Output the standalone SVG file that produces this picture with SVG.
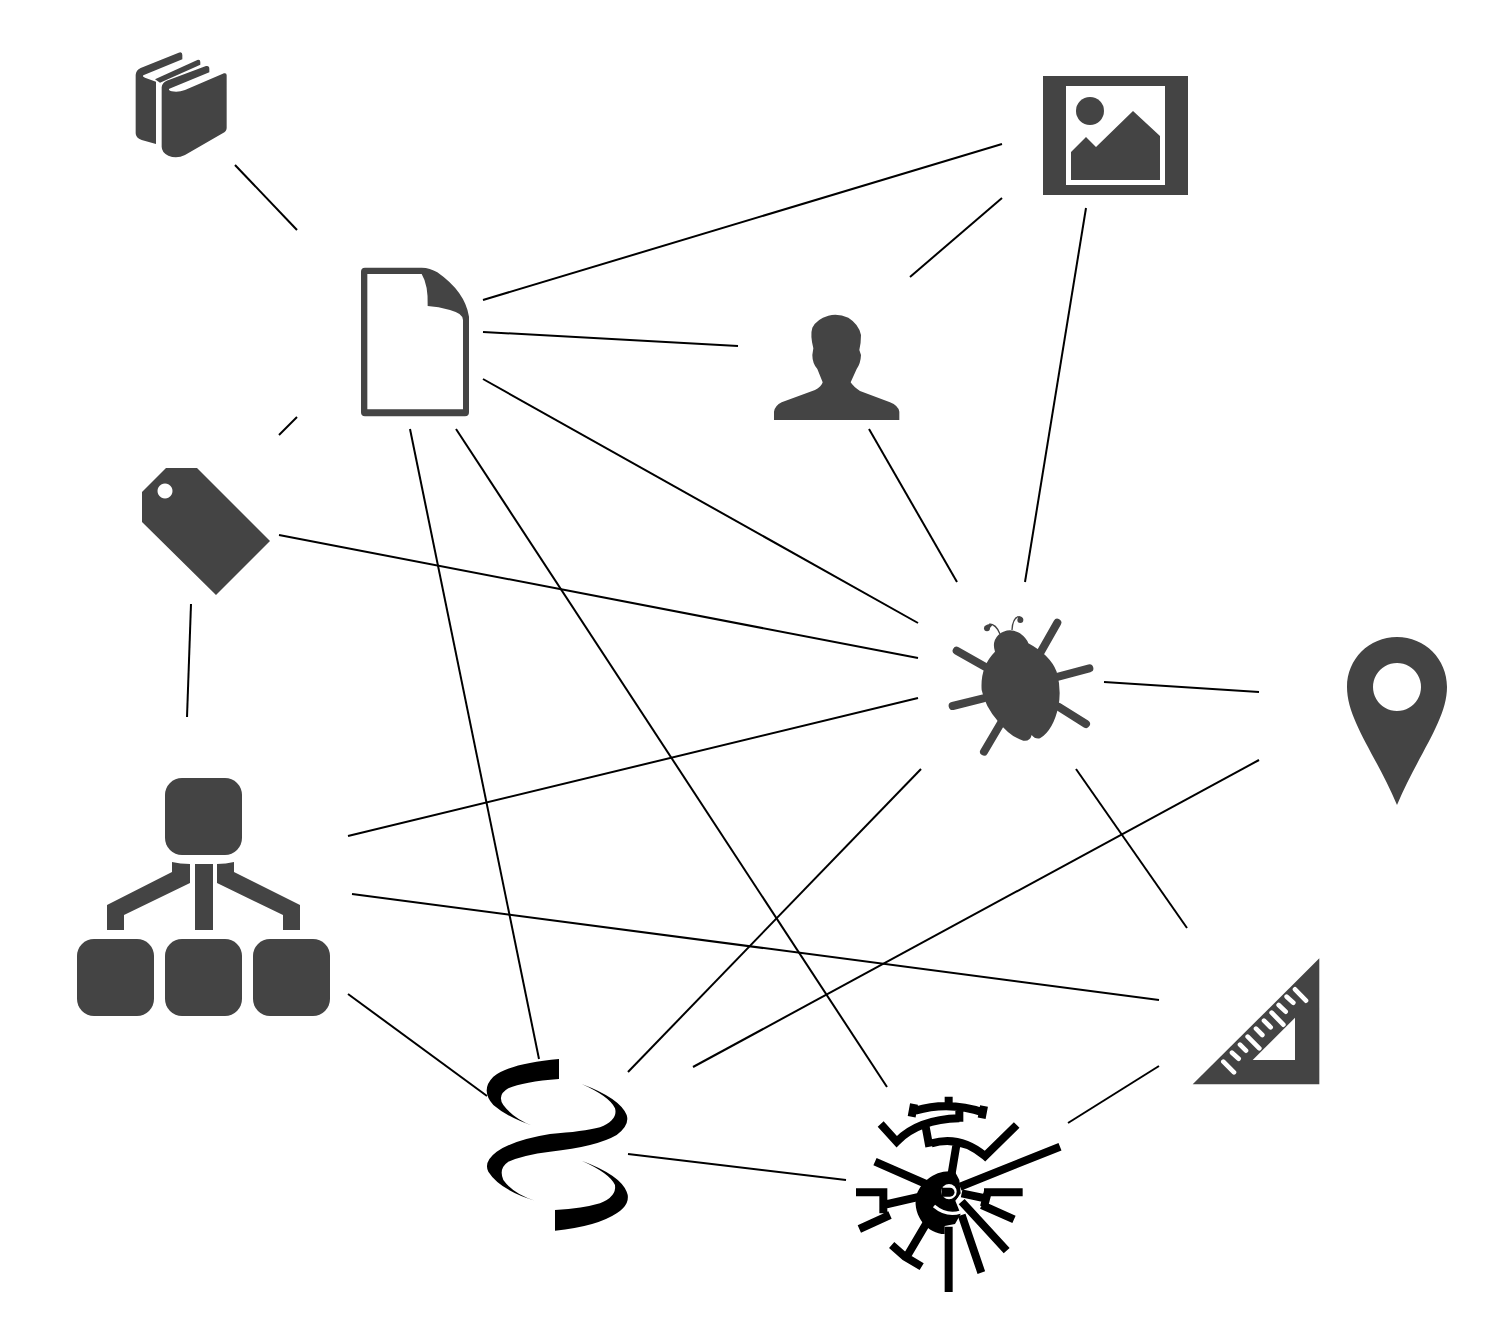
<svg xmlns="http://www.w3.org/2000/svg" width="1502" height="1320" viewBox="0 0 1502 1320">
<style>
.i{fill:#444}
.w{fill:#fff}
#connectors line{stroke:#000;stroke-width:2;fill:none}
.ws{stroke:#fff;stroke-linecap:round;fill:none}
.leg{stroke:#444;stroke-width:24;stroke-linecap:round;fill:none}
.k{stroke:#000;stroke-width:24;fill:none}
</style>
<rect width="1502" height="1320" fill="#fff"/>
<g id="connectors">
<line x1="235" y1="165" x2="297" y2="230"/>
<line x1="483" y1="300" x2="1002" y2="144"/>
<line x1="910" y1="277" x2="1002" y2="198"/>
<line x1="483" y1="332" x2="738" y2="346"/>
<line x1="483" y1="379" x2="918" y2="623"/>
<line x1="297" y1="417" x2="279" y2="435"/>
<line x1="410" y1="429" x2="539" y2="1059"/>
<line x1="456" y1="429" x2="887" y2="1087"/>
<line x1="1086" y1="208" x2="1025" y2="582"/>
<line x1="869" y1="429" x2="957" y2="582"/>
<line x1="279" y1="535" x2="918" y2="658"/>
<line x1="191" y1="604" x2="187" y2="717"/>
<line x1="348" y1="836" x2="918" y2="698"/>
<line x1="352" y1="894" x2="1159" y2="1000"/>
<line x1="348" y1="994" x2="487" y2="1096"/>
<line x1="1104" y1="682" x2="1259" y2="692"/>
<line x1="921" y1="769" x2="628" y2="1072"/>
<line x1="1259" y1="760" x2="693" y2="1067"/>
<line x1="1076" y1="769" x2="1187" y2="928"/>
<line x1="628" y1="1154" x2="846" y2="1180"/>
<line x1="1159" y1="1066" x2="1068" y2="1123"/>
</g>
<g id="books" transform="translate(120,40) scale(.33333)">
<path class="i" d="M47,105Q48,90 62,84L176,38Q187,34 187,45V58L70,106Q66,110 75,113L108,125V312L65,300Q47,294 47,280Z"/>
<path class="i" d="M105,118L232,60Q241,58 241,66V74L120,128Z"/>
<path class="w" d="M108,125Q119,127 125,136L117,140V320L108,318Z"/>
<path class="i" d="M125,142Q126,128 140,122L258,78Q268,76 268,86V97L148,146Q143,150 155,154Q175,158 195,150L312,100Q320,98 320,106V264Q320,274 308,280L195,345Q170,357 145,347Q125,337 125,320Z"/>
</g>
<g id="document" transform="translate(350,255) scale(.33333)">
<path class="i" fill-rule="evenodd" d="M45,38H215Q240,38 262,52Q345,110 357,185V472Q357,484 345,484H45Q33,484 33,472V50Q33,38 45,38ZM52,57V463H339V195Q339,175 300,165Q265,155 233,153Q235,90 215,57Z"/>
</g>
<g id="image">
<rect class="i" x="1043" y="76" width="145" height="119"/>
<rect class="w" x="1066" y="86" width="99" height="99"/>
<circle class="i" cx="1090" cy="111" r="14"/>
<path class="i" d="M1071,152L1086,137L1096,147L1133,111L1160,136V180H1071Z"/>
</g>
<g id="person" transform="translate(760,305) scale(.33333)">
<path class="i" d="M42,345V320Q45,302 65,292L165,255Q185,245 188,232L172,192Q157,175 157,150L160,130Q150,90 157,68Q170,42 205,32Q235,25 265,38Q297,58 303,90Q303,115 298,135L303,150Q302,175 290,192L272,232Q280,245 300,258L390,292Q415,302 418,320V345Z"/>
</g>
<g id="tag">
<path class="i" fill-rule="evenodd" d="M166,468H197L270,541L216,595L142,522V492ZM165,483.500a7.500,7.500 0 1 0 .01,0Z"/>
</g>
<g id="hierarchy">
<rect class="i" x="165" y="778" width="77" height="77" rx="17"/>
<rect class="i" x="77" y="939" width="77" height="77" rx="17"/>
<rect class="i" x="165" y="939" width="77" height="77" rx="17"/>
<rect class="i" x="253" y="939" width="77" height="77" rx="17"/>
<rect class="i" x="195" y="864" width="18" height="66"/>
<path class="i" d="M172,862Q180,864 190,864V883L124,915V930H107V905L172,872Z"/>
<path class="i" d="M234,862Q226,864 217,864V883L283,915V930H300V905L234,872Z"/>
</g>
<g id="bug" transform="translate(930,600) scale(.33333)">
<path class="leg" d="M80,152L165,200M68,318L160,295M162,455L215,365M382,68L330,160M478,205L385,230M468,372L385,320"/>
<path class="i" d="M195,155Q185,125 205,105Q235,80 270,100Q290,115 295,130Q360,165 380,215Q395,270 385,320Q370,390 330,415Q315,418 305,405Q300,425 280,422Q240,410 205,365Q165,320 155,270Q150,200 195,155Z"/>
<path d="M210,102Q198,72 178,72M246,90Q248,55 265,50" stroke="#444" stroke-width="4" fill="none"/>
<circle class="i" cx="171" cy="85" r="9"/>
<circle class="i" cx="271" cy="60" r="9"/>
<path class="i" d="M165,80Q172,68 188,74L180,84ZM262,50Q272,44 280,58L268,60Z"/>
</g>
<g id="pin">
<path class="i" fill-rule="evenodd" d="M1397,637C1425,637 1447,659 1447,687C1447,720 1418,755 1397,805C1376,755 1347,720 1347,687C1347,659 1369,637 1397,637ZM1397,663a24,24 0 1 0 .01,0Z"/>
</g>
<g id="ruler" transform="translate(1180,950) scale(.33333)">
<path class="i" d="M418,25V403H38Z"/>
<path class="w" d="M345,203V330H218Z"/>
<path class="ws" stroke-width="14" d="M130,335L162,367M156,308L176,326M180,284L198,302M203,260L238,295M228,236L247,255M252,212L272,232M275,188L310,224M296,165L317,185M320,140L340,158M345,118L378,152"/>
</g>
<g id="helix" transform="translate(470,1040) scale(.33333)">
<path d="M267,57V117Q160,125 115,145Q80,165 100,195Q130,235 187,257Q110,230 70,195Q30,150 70,110Q120,70 267,57Z"/>
<path d="M335,132Q420,170 435,205Q445,240 390,262Q340,275 240,282Q130,300 80,335Q40,365 55,395Q90,450 195,482Q130,462 100,420Q85,385 115,365Q160,345 240,335Q380,320 440,285Q480,255 470,225Q450,175 335,132Z"/>
<path d="M335,362Q420,400 435,435Q440,470 390,490Q340,505 255,510V572Q380,560 440,520Q485,490 470,455Q450,405 335,362Z"/>
</g>
<g id="wheel" transform="translate(840,1080) scale(.33333)">
<path d="M345,275C290,265 240,305 228,350C218,410 265,462 314,462V438L345,432L362,402L346,362L362,340L358,300Z"/>
<circle cx="327" cy="335" r="23" fill="#fff"/>
<path d="M305,323H330A12,12 0 0 1 330,350H305Z"/>
<path d="M346,314A28,28 0 0 1 346,356" stroke="#000" stroke-width="6" fill="none"/>
<path d="M282,378Q320,410 362,396" stroke="#fff" stroke-width="10" fill="none"/>
<path class="k" d="M326,440V636M105,245L265,315M660,200L360,320M350,190L335,280M268,200L255,130M274,190Q360,165 435,228L530,135M122,132L170,185Q235,118 358,115M358,90V125M226,92Q326,62 432,98M222,72L215,110M432,78L425,115M326,50V78M48,337H140M130,325V400M130,375L240,350M150,405L58,447M432,337H548M445,330L432,380M365,340L445,357M425,375L522,418M200,530L262,425M155,495L195,530L245,560M424,578L365,405M500,512L365,365"/>
</g>
</svg>
